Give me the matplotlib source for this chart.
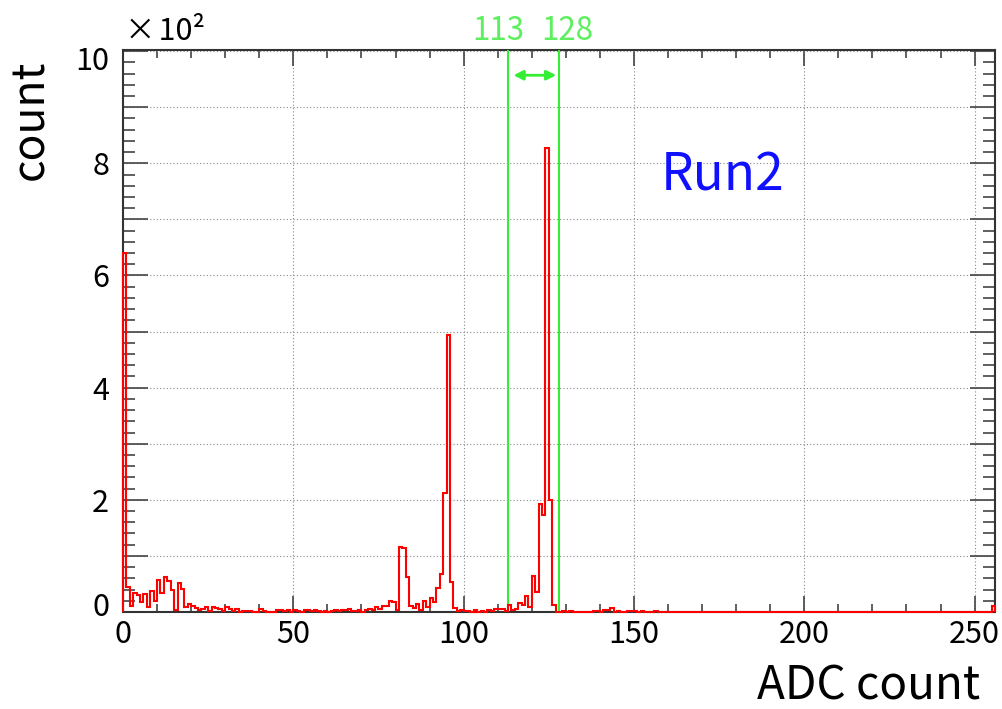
import numpy as np
import matplotlib
matplotlib.use("Agg")
import matplotlib.pyplot as plt
from matplotlib.ticker import MultipleLocator, FixedLocator, FixedFormatter
from matplotlib.transforms import ScaledTranslation

plt.rcParams['font.family'] = ['Noto Sans CJK JP', 'DejaVu Sans']

# ---- data (ADC histogram, 256 bins of width 1) ----
counts_0_35 = [640, 45, 10, 34, 30, 17, 32, 9, 38, 20, 57, 34, 62, 55, 40, 4, 52, 41,
               9, 15, 11, 7, 4, 5, 9, 2, 9, 7, 5, 2, 9, 5, 2, 5, 0, 2]
counts_36_80 = [2, 1, 0, 0, 5, 1, 0, 0, 0, 3, 3, 2, 3, 0, 3, 1, 0, 3, 4, 1, 3, 2, 0, 2, 0,
                1, 4, 1, 3, 3, 6, 2, 1, 4, 0, 3, 5, 3, 9, 6, 11, 11, 20, 17, 3]
counts_81_99 = [116, 114, 62, 11, 7, 14, 3, 20, 9, 25, 18, 43, 68, 212, 493, 54, 8, 1, 3]
counts_100_131 = [1, 2, 0, 3, 0, 2, 0, 3, 1, 5, 5, 5, 1, 12, 4, 6, 16, 13, 29, 9, 64, 36,
                  193, 173, 827, 200, 12, 0, 0, 2, 0, 1]
counts_132_170 = [0, 0, 0, 0, 0, 0, 1, 1, 0, 3, 3, 8, 0, 1, 0, 0, 1, 2, 1, 0, 2, 0, 0, 0,
                  1, 0, 0, 0, 0, 0, 0, 0, 0, 0, 0, 0, 0, 0, 0]
counts_171_255 = [0] * 84 + [11]

counts = np.array(counts_0_35 + counts_36_80 + counts_81_99 + counts_100_131
                  + counts_132_170 + counts_171_255, dtype=float)
edges = np.arange(0, 257)

y_ticks = [0, 100, 200, 300, 400, 500, 600, 700, 800, 900, 1000]
y_tick_labels = ["0", "", "2", "", "4", "", "6", "", "8", "", "10"]

window = [113, 128]
window_labels = ["113", "128"]
run_label = "Run2"

# ---- figure ----
W, H = 1002, 709
fig = plt.figure(figsize=(W / 100, H / 100), dpi=100)
ax = fig.add_axes([123 / W, (H - 612) / H, 872 / W, 562 / H])

ax.stairs(counts, edges, color='#ff0000', lw=1.5, zorder=5, clip_on=False)

ax.set_xlim(0, 256)
ax.set_ylim(0, 1002)

ax.xaxis.set_major_locator(MultipleLocator(50))
ax.xaxis.set_minor_locator(MultipleLocator(10))
ax.yaxis.set_major_locator(FixedLocator(y_ticks))
ax.yaxis.set_major_formatter(FixedFormatter(y_tick_labels))
ax.yaxis.set_minor_locator(MultipleLocator(20))

ax.tick_params(which='both', direction='in', top=True, right=True,
               color='#444444', width=1.2, labelsize=22)
ax.tick_params(axis='x', which='major', length=11.5, pad=5)
ax.tick_params(axis='x', which='minor', length=5.8)
ax.tick_params(axis='y', which='major', length=18, pad=10)
ax.tick_params(axis='y', which='minor', length=8.6)

# nudge edge labels inward like the reference
yt = ax.yaxis.get_major_ticks()
yt[0].label1.set_transform(yt[0].label1.get_transform()
                           + ScaledTranslation(0, 8 / 100, fig.dpi_scale_trans))
yt[-1].label1.set_transform(yt[-1].label1.get_transform()
                            + ScaledTranslation(0, -7 / 100, fig.dpi_scale_trans))

ax.grid(which='major', linestyle=(0, (1, 2)), color='#888888', lw=0.8, zorder=0)

for s in ax.spines.values():
    s.set_linewidth(1.5)
    s.set_color('#333333')

# window lines
green_line = '#33ee33'
green_text = '#5def5d'
for xv in window:
    ax.axvline(xv, color=green_line, lw=1.5, zorder=4)
offsets = [-7.2, 5.8]
for xv, lab, dx in zip(window, window_labels, offsets):
    ax.annotate(lab, xy=(xv, 1.0), xycoords=ax.get_xaxis_transform(),
                xytext=(dx, 7.2), textcoords='offset points',
                ha='center', va='baseline', color=green_text, fontsize=22.5)
ax.annotate('', xy=(window[1], 957), xytext=(window[0], 957),
            arrowprops=dict(arrowstyle='<|-|>', color=green_line, lw=2,
                            shrinkA=4, shrinkB=2, mutation_scale=14))

# texts
fig.text(125 / W, 1 - 40 / H, "×\u200a10²", fontsize=22, ha='left', va='baseline')
fig.text(980 / W, 1 - 700 / H, "ADC count", fontsize=33, ha='right', va='baseline')
fig.text(30 / W, 1 - 60 / H, "count", fontsize=32, rotation=90, ha='center', va='top')
ax.text(0.617, 0.75, run_label, transform=ax.transAxes, color='#1010ff',
        fontsize=37, ha='left', va='baseline')

fig.savefig("out.png", dpi=100)
